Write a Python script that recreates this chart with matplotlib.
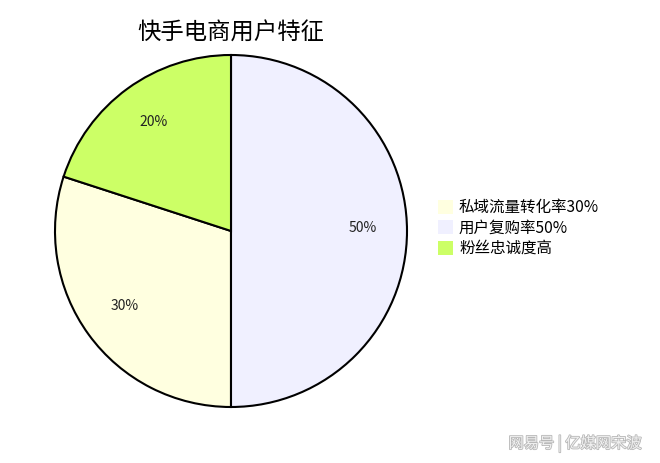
import matplotlib
matplotlib.use('Agg')
import matplotlib.pyplot as plt
import matplotlib.patheffects as pe
from matplotlib.patches import Patch
import numpy as np

plt.rcParams['font.family'] = ['Noto Sans CJK SC', 'DejaVu Sans']

# data
labels = ['私域流量转化率30%', '用户复购率50%', '粉丝忠诚度高']
sizes = [30, 50, 20]
colors = ['#FFFFE0', '#F0F0FF', '#CCFF66']
title = '快手电商用户特征'
watermark = '网易号 | 亿媒网宋波'

W, H = 660, 463
fig = plt.figure(figsize=(W / 100, H / 100), dpi=100)

cx, cy, r = 231, 231, 176
pad = 1.03
ax = fig.add_axes([(cx - r * pad) / W, (H - cy - r * pad) / H,
                   2 * r * pad / W, 2 * r * pad / H])
wedges, texts = ax.pie(sizes, colors=colors, startangle=162, counterclock=True,
                       wedgeprops=dict(edgecolor='black', linewidth=1.5))
ax.set_xlim(-pad, pad)
ax.set_ylim(-pad, pad)
ax.axis('off')

# percentage labels
for w, s in zip(wedges, sizes):
    mid = np.deg2rad((w.theta1 + w.theta2) / 2)
    ax.text(0.75 * np.cos(mid), 0.75 * np.sin(mid) + 0.015, f'{s}%',
            ha='center', va='center', fontsize=10, color='#222222')

fig.text(cx / W, 1 - 33 / H, title, ha='center', va='center', fontsize=16.8)

handles = [Patch(facecolor=c, edgecolor='none') for c in colors]
fig.legend(handles, labels, loc='center left', bbox_to_anchor=(424 / W, 1 - 228 / H),
           frameon=False, fontsize=11.2, handlelength=0.95, handleheight=1.0,
           handletextpad=0.4, labelspacing=0.22)

fig.text(575 / W, 1 - 443 / H, watermark, ha='center', va='center', fontsize=11,
         color='#f0f0f0',
         path_effects=[pe.withStroke(linewidth=1.2, foreground='#b8b8b8')])

fig.savefig('out.png', dpi=100)
